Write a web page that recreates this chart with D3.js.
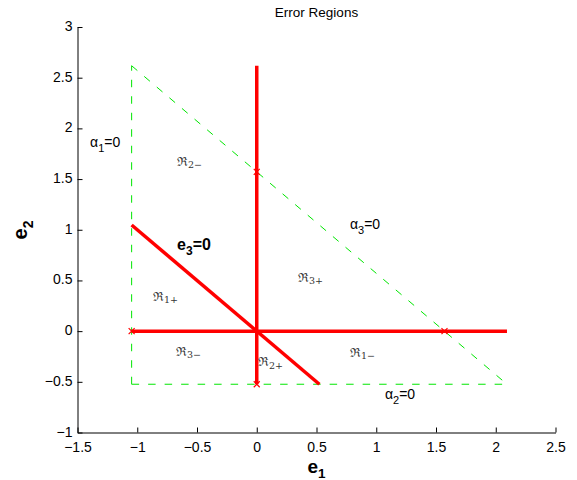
<!DOCTYPE html>
<html>
<head>
<meta charset="utf-8">
<script src="https://cdn.jsdelivr.net/npm/d3@7"></script>
<style>
  html, body { margin: 0; padding: 0; background: #fff; }
  svg { display: block; }
</style>
</head>
<body>
<svg id="chart" width="577" height="480"></svg>
<script>
// Axis domains and tick values
const xDomain = [-1.5, 2.5];
const yDomain = [-1, 3];
const xTicks = [-1.5, -1, -0.5, 0, 0.5, 1, 1.5, 2, 2.5];
const yTicks = [-1, -0.5, 0, 0.5, 1, 1.5, 2, 2.5, 3];

// Constraint boundaries alpha_i = 0 (green dashed triangle)
const alpha1Line = [[-1.047, -0.524], [-1.047, 2.618]];
const alpha2Line = [[-1.047, -0.524], [2.094, -0.524]];
const alpha3Line = [[-1.047, 2.618], [2.094, -0.524]];

// Zero-error lines e1 = 0, e2 = 0, e3 = 0 (red)
const e1ZeroLine = [[0, -0.524], [0, 2.618]];
const e2ZeroLine = [[-1.047, 0], [2.094, 0]];
const e3ZeroLine = [[-1.047, 1.047], [0.524, -0.524]];

// Intersection markers
const crossPoints = [[-1.047, 0], [0, -0.524], [0, 1.571], [1.571, 0]];

// Region labels: [e1, e2, index, sign]
const regionLabels = [
  [-0.667, 1.675, "2", "−"],
  [0.345, 0.53, "3", "+"],
  [0.78, -0.21, "1", "−"],
  [0.01, -0.30, "2", "+"],
  [-0.868, 0.343, "1", "+"],
  [-0.676, -0.20, "3", "−"]
];

// Boundary labels: [e1, e2, index]
const alphaLabels = [
  [-1.395, 1.863, "1"],
  [1.073, -0.625, "2"],
  [0.78, 1.053, "3"]
];
const e3Label = [-0.667, 0.856];

const svg = d3.select("#chart");
svg.append("rect").attr("width", 577).attr("height", 480).attr("fill", "#fff");

const x = d3.scaleLinear().domain(xDomain).range([77.5, 555.5]);
const y = d3.scaleLinear().domain(yDomain).range([432.5, 27]);

const fmt = v => String(v).replace("-", "\u2212");

// Axes (ticks pointing inward, no box)
const xAxis = d3.axisBottom(x).tickValues(xTicks).tickFormat(fmt)
  .tickSizeInner(-5).tickSizeOuter(0).tickPadding(9.3);
const yAxis = d3.axisLeft(y).tickValues(yTicks).tickFormat(fmt)
  .tickSizeInner(-5).tickSizeOuter(0).tickPadding(5);

const gx = svg.append("g").attr("transform", `translate(0,${y(-1)})`).call(xAxis);
const gy = svg.append("g").attr("transform", `translate(${x(-1.5)},0)`).call(yAxis);
[gx, gy].forEach(g => {
  g.selectAll("path, line").attr("stroke", "#000").attr("stroke-width", 1);
  g.selectAll("text").attr("fill", "#000")
    .style("font-family", "'Liberation Sans', Arial, sans-serif")
    .style("font-size", "14px");
});
gy.selectAll("text").attr("dy", "0.25em");

const line = d3.line().x(d => x(d[0])).y(d => y(d[1]));

// Green dashed constraint boundaries
[alpha1Line, alpha2Line, alpha3Line].forEach(pts => {
  svg.append("path").attr("d", line(pts))
    .attr("fill", "none").attr("stroke", "#00e600")
    .attr("stroke-width", 1).attr("stroke-dasharray", "7.5,9");
});

// Red zero-error lines
[e1ZeroLine, e2ZeroLine, e3ZeroLine].forEach(pts => {
  svg.append("path").attr("d", line(pts))
    .attr("fill", "none").attr("stroke", "#ff0000")
    .attr("stroke-width", 3.5);
});

// Cross markers
const ms = 3;
svg.append("g").selectAll("path").data(crossPoints).join("path")
  .attr("d", d => {
    const cx = x(d[0]), cy = y(d[1]);
    return `M${cx - ms},${cy - ms}L${cx + ms},${cy + ms}M${cx - ms},${cy + ms}L${cx + ms},${cy - ms}`;
  })
  .attr("stroke", "#ff0000").attr("stroke-width", 1.2).attr("fill", "none");

// Region labels (Fraktur R with subscripts)
const rg = svg.append("g").style("font-family", "'DejaVu Serif', serif").attr("fill", "#333");
regionLabels.forEach(([a, b, i, s]) => {
  const t = rg.append("text").attr("x", x(a)).attr("y", y(b) + 4.5).style("font-size", "12.5px");
  t.append("tspan").text("\u211C");
  t.append("tspan").attr("dy", 2.5).style("font-size", "9.5px").text(i + s);
});

// alpha_i = 0 labels
const ag = svg.append("g").style("font-family", "'Liberation Sans', Arial, sans-serif").attr("fill", "#000");
alphaLabels.forEach(([a, b, i]) => {
  const t = ag.append("text").attr("x", x(a)).attr("y", y(b) + 5).style("font-size", "14px");
  t.append("tspan").text("α");
  t.append("tspan").attr("dy", 5).style("font-size", "11px").text(i);
  t.append("tspan").attr("dy", -5).text("=0");
});

// e3 = 0 label
{
  const t = svg.append("text").attr("x", x(e3Label[0])).attr("y", y(e3Label[1]) + 5.5)
    .style("font-family", "'Liberation Sans', Arial, sans-serif")
    .style("font-size", "16px").style("font-weight", "bold").attr("fill", "#000");
  t.append("tspan").text("e");
  t.append("tspan").attr("dy", 5).style("font-size", "12px").text("3");
  t.append("tspan").attr("dy", -5).text("=0");
}

// Title
svg.append("text").attr("x", 316.5).attr("y", 17).attr("text-anchor", "middle")
  .style("font-family", "'Liberation Sans', Arial, sans-serif").style("font-size", "13.5px")
  .attr("fill", "#000").text("Error Regions");

// Axis labels
{
  const t = svg.append("text").attr("x", 316.5).attr("y", 472.5).attr("text-anchor", "middle")
    .style("font-family", "'Liberation Sans', Arial, sans-serif")
    .style("font-size", "19px").style("font-weight", "bold").attr("fill", "#000");
  t.append("tspan").text("e");
  t.append("tspan").attr("dy", 5.5).style("font-size", "13.5px").text("1");
}
{
  const t = svg.append("text").attr("transform", "translate(27,230) rotate(-90)")
    .attr("text-anchor", "middle")
    .style("font-family", "'Liberation Sans', Arial, sans-serif")
    .style("font-size", "20px").style("font-weight", "bold").attr("fill", "#000");
  t.append("tspan").text("e");
  t.append("tspan").attr("dy", 6).style("font-size", "14px").text("2");
}
</script>
</body>
</html>
